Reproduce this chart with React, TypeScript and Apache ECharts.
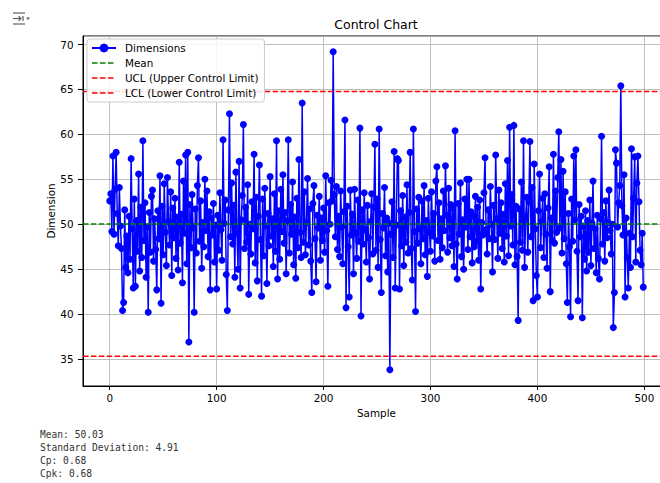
import React, { useEffect, useRef } from 'react';
import * as echarts from 'echarts';

const dimensions: number[] = [
  52.6, 53.4, 49.2, 57.6, 48.9, 53.9, 58.0, 51.2, 47.6, 54.1, 49.8, 47.3, 40.4, 41.3, 51.6, 45.2, 48.7, 44.6, 50.9, 46.1,
  57.3, 49.5, 42.9, 52.8, 43.1, 50.4, 47.0, 55.6, 44.8, 51.9, 46.3, 59.3, 48.2, 52.4, 44.1, 49.7, 40.2, 51.3, 46.9, 53.1,
  53.8, 45.9, 50.6, 47.2, 42.7, 51.5, 48.4, 55.4, 41.2, 52.0, 46.6, 54.5, 49.1, 45.4, 55.2, 50.3, 47.7, 53.6, 44.3, 51.8,
  48.5, 52.9, 46.2, 50.8, 44.9, 56.9, 47.9, 51.1, 43.5, 54.8, 49.0, 57.7, 45.6, 58.0, 36.9, 52.2, 47.4, 53.3, 49.6, 40.2,
  51.7, 46.8, 54.3, 57.4, 48.1, 52.6, 45.1, 50.2, 47.5, 55.0, 49.3, 53.7, 46.4, 51.4, 42.7, 50.7, 48.8, 52.3, 45.8, 49.9,
  42.8, 51.0, 47.1, 53.5, 49.4, 46.0, 59.4, 50.1, 52.7, 44.4, 40.4, 51.6, 62.3, 48.6, 54.6, 47.8, 52.1, 44.1, 55.8, 49.0,
  45.0, 57.0, 42.9, 50.5, 53.2, 61.1, 47.3, 51.9, 48.0, 54.4, 42.2, 50.0, 46.7, 52.5, 49.5, 57.8, 45.7, 53.0, 43.7, 50.9,
  56.6, 48.3, 42.0, 52.8, 46.5, 54.0, 49.8, 43.4, 51.2, 47.6, 55.3, 48.7, 50.6, 45.3, 53.4, 47.0, 59.3, 43.9, 51.5, 46.1,
  53.9, 49.2, 55.5, 47.9, 51.3, 44.5, 50.4, 59.4, 46.8, 52.2, 48.9, 54.7, 45.5, 50.8, 44.0, 52.9, 47.4, 57.2, 49.1, 46.3,
  63.5, 48.0, 53.6, 46.6, 50.2, 55.1, 47.7, 51.7, 45.9, 42.4, 52.3, 54.3, 48.4, 43.6, 51.0, 49.6, 53.1, 46.0, 50.7, 48.2,
  51.8, 46.9, 55.4, 49.3, 43.1, 52.4, 50.0, 54.9, 52.6, 69.2, 53.3, 48.6, 54.2, 47.2, 50.9, 46.4, 53.7, 49.7, 45.6, 51.4,
  61.6, 40.7, 52.0, 47.5, 41.9, 53.8, 48.8, 51.1, 44.5, 53.9, 49.0, 46.2, 52.7, 48.1, 60.7, 39.8, 51.6, 47.8, 53.5, 49.4,
  45.8, 52.1, 48.5, 43.9, 50.3, 53.4, 46.7, 51.9, 58.9, 47.1, 52.8, 45.2, 60.6, 48.3, 42.4, 51.2, 49.6, 54.1, 46.5, 50.7,
  44.7, 50.1, 33.8, 48.9, 52.5, 46.3, 58.1, 42.9, 49.9, 57.3, 57.1, 42.8, 51.5, 47.6, 53.2, 45.4, 50.8, 48.0, 54.4, 46.8,
  51.3, 58.0, 47.3, 43.8, 60.6, 49.2, 40.3, 51.7, 47.9, 53.0, 49.5, 45.6, 52.6, 48.4, 54.3, 46.6, 50.4, 44.2, 52.9, 49.1,
  47.0, 53.6, 48.7, 51.2, 45.9, 54.8, 56.4, 48.2, 52.4, 46.1, 50.6, 47.4, 53.7, 49.3, 56.5, 51.0, 46.9, 54.0, 48.5, 52.2,
  47.6, 51.8, 45.3, 60.4, 47.8, 43.9, 52.3, 48.9, 54.6, 46.4, 50.5, 45.0, 52.8, 49.7, 55.0, 47.2, 55.0, 48.6, 51.4, 45.7,
  50.9, 47.5, 53.1, 48.1, 51.9, 46.0, 52.7, 42.8, 50.2, 48.8, 53.5, 57.4, 49.4, 46.7, 51.6, 48.4, 54.2, 50.0, 44.7, 52.1,
  48.3, 57.7, 50.6, 46.2, 53.8, 49.0, 52.4, 47.3, 51.1, 45.8, 54.5, 48.7, 57.1, 46.5, 60.8, 49.8, 53.3, 47.7, 61.0, 45.5,
  52.0, 46.4, 39.3, 51.7, 48.0, 54.7, 47.1, 59.3, 45.2, 50.8, 53.0, 46.9, 52.5, 59.2, 48.6, 54.1, 41.5, 56.7, 49.5, 44.3,
  41.9, 51.5, 55.6, 47.4, 50.3, 52.9, 46.3, 53.4, 48.9, 45.1, 51.8, 56.4, 42.5, 50.7, 48.2, 57.8, 47.9, 53.7, 49.1, 55.2,
  60.3, 49.6, 57.2, 46.8, 55.9, 48.4, 53.6, 45.6, 41.3, 51.2, 47.5, 39.7, 52.8, 48.1, 57.6, 50.5, 58.3, 47.0, 41.5, 52.2,
  48.6, 50.9, 39.6, 49.8, 46.1, 51.5, 44.8, 50.4, 46.9, 52.7, 45.4, 50.1, 54.8, 47.3, 49.5, 44.6, 51.0, 46.2, 43.9, 50.6,
  59.8, 47.8, 51.3, 45.9, 52.6, 48.5, 50.2, 53.8, 49.3, 46.7, 50.0, 38.5, 42.4, 58.3, 56.8, 49.7, 52.4, 54.3, 65.4, 52.1,
  48.8, 55.5, 41.9, 50.7, 46.3, 42.9, 49.0, 45.2, 58.4, 48.6, 52.9, 57.5, 45.8, 54.6, 57.6, 52.5, 47.1, 45.5, 49.0, 43.0,
];

const MEAN = 50.03;
const UCL = 64.76;
const LCL = 35.3;
const X_MIN = -25;
const X_MAX = 524;
const Y_MIN = 32.0;
const Y_MAX = 70.95;
const statLines = ['Mean: 50.03', 'Standard Deviation: 4.91', 'Cp: 0.68', 'Cpk: 0.68'];
const seriesNames = ['Dimensions', 'Mean', 'UCL (Upper Control Limit)', 'LCL (Lower Control Limit)'];

const DASH_ICON = 'path://M0,0h5.5v1.6h-5.5z M8,0h5.5v1.6h-5.5z M16,0h5.5v1.6h-5.5z M24,0h0.01v1.6h-0.01z';

export default function App() {
  const ref = useRef<HTMLDivElement>(null);
  useEffect(() => {
    if (!ref.current) return;
    const chart = echarts.init(ref.current, undefined, { renderer: 'svg' });
    const font = 'DejaVu Sans';
    const hline = (name: string, y: number, color: string) => ({
      name,
      type: 'line',
      data: [[X_MIN, y], [X_MAX, y]],
      symbol: 'none',
      showSymbol: false,
      lineStyle: { color, width: 1.5, type: [5.5, 2.4] },
      itemStyle: { color },
      z: 3,
    });
    const iconColor = '#616161';
    chart.setOption({
      animation: false,
      backgroundColor: '#ffffff',
      textStyle: { fontFamily: font },
      grid: {
        left: 83, top: 36, width: 587, height: 350,
        outerBoundsMode: 'none', containLabel: false,
        show: true, borderColor: '#000', borderWidth: 1, backgroundColor: '#fff',
      },
      xAxis: {
        type: 'value',
        min: X_MIN,
        max: X_MAX,
        splitNumber: 5,
        name: 'Sample',
        nameLocation: 'middle',
        nameGap: 22,
        nameMoveOverlap: false,
        nameTextStyle: { fontSize: 10.4, color: '#000', fontFamily: font },
        axisLine: { show: true, onZero: false, lineStyle: { color: '#000', width: 1 } },
        axisTick: { show: true, length: 4, lineStyle: { color: '#000' } },
        axisLabel: {
          fontSize: 10.4, color: '#000', margin: 7, fontFamily: font,
          showMinLabel: false, showMaxLabel: false,
          formatter: (v: number) => (Math.abs(v % 100) < 1e-6 ? String(v) : ''),
        },
        splitLine: { show: true, lineStyle: { color: '#b0b0b0', width: 0.8 } },
      },
      yAxis: {
        type: 'value',
        min: Y_MIN,
        max: Y_MAX,
        splitNumber: 8,
        name: 'Dimension',
        nameLocation: 'middle',
        nameGap: 27,
        nameRotate: 90,
        nameMoveOverlap: false,
        nameTextStyle: { fontSize: 10.4, color: '#000', fontFamily: font },
        axisLine: { show: true, onZero: false, lineStyle: { color: '#000', width: 1 } },
        axisTick: { show: true, length: 5, lineStyle: { color: '#000' } },
        axisLabel: {
          fontSize: 10.4, color: '#000', margin: 9.5, fontFamily: font,
          showMinLabel: false, showMaxLabel: false,
          formatter: (v: number) => (Math.abs(v % 5) < 1e-6 ? String(v) : ''),
        },
        splitLine: { show: true, lineStyle: { color: '#b0b0b0', width: 0.8 } },
      },
      legend: {
        data: [
          { name: seriesNames[0] },
          { name: seriesNames[1], icon: DASH_ICON },
          { name: seriesNames[2], icon: DASH_ICON },
          { name: seriesNames[3], icon: DASH_ICON },
        ],
        orient: 'vertical',
        left: 87,
        top: 39,
        padding: [4, 6, 4, 4],
        itemGap: 5,
        itemWidth: 24,
        itemHeight: 11,
        symbolKeepAspect: true,
        backgroundColor: 'rgba(255,255,255,0.85)',
        borderColor: '#cccccc',
        borderWidth: 1,
        borderRadius: 3,
        textStyle: { fontSize: 10.4, color: '#000', fontFamily: font, padding: [0, 0, 0, 4] },
      },
      series: [
        {
          name: 'Dimensions',
          type: 'line',
          data: dimensions.map((v, i) => [i, v]),
          symbol: 'circle',
          symbolSize: 7,
          showSymbol: true,
          showAllSymbol: true,
          lineStyle: { color: '#0000ff', width: 1.5 },
          itemStyle: { color: '#0000ff' },
          z: 2,
        },
        hline('Mean', MEAN, '#008000'),
        hline('UCL (Upper Control Limit)', UCL, '#ff0000'),
        hline('LCL (Lower Control Limit)', LCL, '#ff0000'),
      ],
      graphic: [
        { type: 'text', x: 376, y: 24, style: { text: 'Control Chart', fontSize: 12.5, fill: '#000', fontFamily: font, textAlign: 'center', textVerticalAlign: 'middle' } },
        ...statLines.map((t, i) => ({
          type: 'text', x: 40, y: 434 + i * 13,
          style: { text: t, fontSize: 9.6, fill: '#333', fontFamily: 'DejaVu Sans Mono', textAlign: 'left', textVerticalAlign: 'middle' },
        })),
        { type: 'line', shape: { x1: 13, y1: 13, x2: 25, y2: 13 }, style: { stroke: iconColor, lineWidth: 1.2 } },
        { type: 'line', shape: { x1: 13, y1: 18.5, x2: 21, y2: 18.5 }, style: { stroke: iconColor, lineWidth: 1.2 } },
        { type: 'polyline', shape: { points: [[18.5, 16.3], [21, 18.5], [18.5, 20.7]] }, style: { stroke: iconColor, lineWidth: 1.2, fill: 'none' } },
        { type: 'line', shape: { x1: 23, y1: 16, x2: 23, y2: 21 }, style: { stroke: iconColor, lineWidth: 1.2 } },
        { type: 'line', shape: { x1: 13, y1: 24, x2: 25, y2: 24 }, style: { stroke: iconColor, lineWidth: 1.2 } },
        { type: 'polygon', shape: { points: [[26, 17.5], [30, 17.5], [28, 20]] }, style: { fill: iconColor } },
      ],
    });
    return () => chart.dispose();
  }, []);
  return (
    <div
      ref={ref}
      style={{ position: 'fixed', left: 0, top: 0, width: 660, height: 483, background: '#fff' }}
    />
  );
}
